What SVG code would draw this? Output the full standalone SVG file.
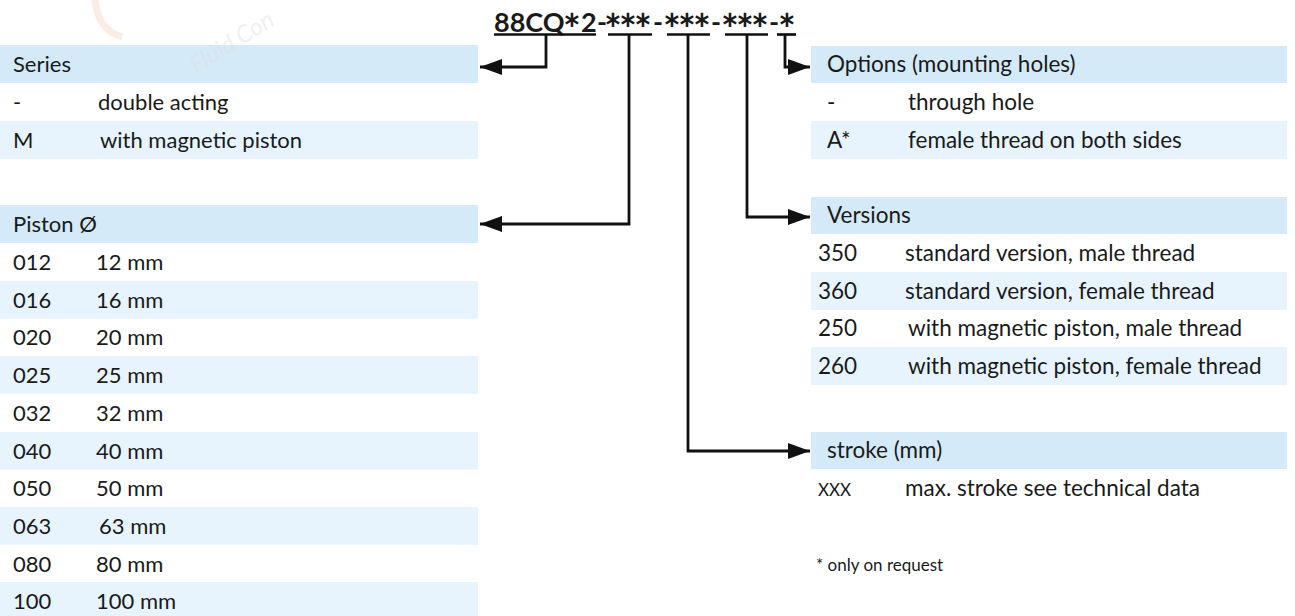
<svg xmlns="http://www.w3.org/2000/svg" width="1295" height="616" viewBox="0 0 1295 616">
<style>
  .hdr { fill: #d4eaf9; }
  .alt { fill: #e8f4fd; }
  .t { font-family: Lato, "Liberation Sans", sans-serif; font-size: 22px; fill: #1a1a1a; }
  .r { font-size: 22.5px; }
  .small { font-family: Lato, "Liberation Sans", sans-serif; font-size: 17px; fill: #1a1a1a; }
  .title { font-family: Lato, "Liberation Sans", sans-serif; font-size: 27px; font-weight: bold; fill: #1a1a1a; }
  .ast { font-size: 42px; }
  .ul { stroke: #111; stroke-width: 2.7; fill: none; }
  .conn { stroke: #111; stroke-width: 2.8; fill: none; }
  .wm { font-family: Lato, "Liberation Sans", sans-serif; font-size: 24px; font-style: italic; fill: #dddddd; fill-opacity: 0.45; }
</style>
<defs>
  <marker id="arr" markerUnits="userSpaceOnUse" markerWidth="24" markerHeight="16" refX="22" refY="8" orient="auto">
    <path d="M0,0 L22,8 L0,16 Z" fill="#111"/>
  </marker>
</defs>
<rect width="1295" height="616" fill="#ffffff"/>

<g id="title">
  <text class="title" y="32"><tspan x="494">88CQ</tspan><tspan class="ast" x="563" dy="13">*</tspan><tspan x="581" dy="-13">2</tspan><tspan x="597">-</tspan><tspan class="ast" x="604 619 634" dy="13">***</tspan><tspan x="653" dy="-13">-</tspan><tspan class="ast" x="663 678 693" dy="13">***</tspan><tspan x="711" dy="-13">-</tspan><tspan class="ast" x="721 736 751" dy="13">***</tspan><tspan x="769" dy="-13">-</tspan><tspan class="ast" x="778" dy="13">*</tspan></text>
  <line class="ul" x1="494" y1="34.5" x2="596" y2="34.5"/>
  <line class="ul" x1="608" y1="34.5" x2="652" y2="34.5"/>
  <line class="ul" x1="667" y1="34.5" x2="710" y2="34.5"/>
  <line class="ul" x1="725" y1="34.5" x2="768" y2="34.5"/>
  <line class="ul" x1="777" y1="34.5" x2="796" y2="34.5"/>
</g>

<g id="series">
  <rect class="hdr" x="0" y="45" width="478" height="38"/>
  <rect class="alt" x="0" y="121" width="478" height="38"/>
  <text class="t" x="13" y="72">Series</text>
  <text class="t" x="13" y="110">-</text>
  <text class="t" x="98" y="110">double acting</text>
  <text class="t" x="13" y="148">M</text>
  <text class="t" x="100" y="148">with magnetic piston</text>
</g>

<g id="piston">
  <rect class="hdr" x="0" y="205" width="478" height="38"/>
  <rect class="alt" x="0" y="281" width="478" height="37.7"/>
  <rect class="alt" x="0" y="356" width="478" height="37.7"/>
  <rect class="alt" x="0" y="432" width="478" height="37.7"/>
  <rect class="alt" x="0" y="507" width="478" height="37.7"/>
  <rect class="alt" x="0" y="582" width="478" height="38"/>
  <text class="t" x="13" y="232">Piston Ø</text>
  <text class="t" x="13" y="270">012</text><text class="t" x="96" y="270">12 mm</text>
  <text class="t" x="13" y="308">016</text><text class="t" x="96" y="308">16 mm</text>
  <text class="t" x="13" y="345">020</text><text class="t" x="96" y="345">20 mm</text>
  <text class="t" x="13" y="383">025</text><text class="t" x="96" y="383">25 mm</text>
  <text class="t" x="13" y="421">032</text><text class="t" x="96" y="421">32 mm</text>
  <text class="t" x="13" y="459">040</text><text class="t" x="96" y="459">40 mm</text>
  <text class="t" x="13" y="496">050</text><text class="t" x="96" y="496">50 mm</text>
  <text class="t" x="13" y="534">063</text><text class="t" x="99" y="534">63 mm</text>
  <text class="t" x="13" y="572">080</text><text class="t" x="96" y="572">80 mm</text>
  <text class="t" x="13" y="609">100</text><text class="t" x="96" y="609">100 mm</text>
</g>

<g id="options">
  <rect class="hdr" x="811" y="46" width="476" height="37"/>
  <rect class="alt" x="811" y="121" width="476" height="38"/>
  <text class="t r" x="827" y="72">Options (mounting holes)</text>
  <text class="t r" x="827" y="110">-</text>
  <text class="t r" x="908" y="110">through hole</text>
  <text class="t r" x="827" y="148">A*</text>
  <text class="t r" x="908" y="148">female thread on both sides</text>
</g>

<g id="versions">
  <rect class="hdr" x="811" y="197" width="476" height="37"/>
  <rect class="alt" x="811" y="272" width="476" height="38"/>
  <rect class="alt" x="811" y="347" width="476" height="38"/>
  <text class="t r" x="827" y="223">Versions</text>
  <text class="t r" x="818" y="261">350</text><text class="t r" x="905" y="261">standard version, male thread</text>
  <text class="t r" x="818" y="299">360</text><text class="t r" x="905" y="299">standard version, female thread</text>
  <text class="t r" x="818" y="336">250</text><text class="t r" x="908" y="336">with magnetic piston, male thread</text>
  <text class="t r" x="818" y="374">260</text><text class="t r" x="908" y="374">with magnetic piston, female thread</text>
</g>

<g id="stroke">
  <rect class="hdr" x="811" y="432" width="476" height="37"/>
  <text class="t r" x="827" y="458">stroke (mm)</text>
  <text class="small" x="818" y="496">XXX</text>
  <text class="t r" x="905" y="496">max. stroke see technical data</text>
</g>

<g id="note">
  <text class="small" x="816" y="571">* only on request</text>
</g>

<g id="connectors">
  <polyline class="conn" points="546,34 546,67 480,67" marker-end="url(#arr)"/>
  <polyline class="conn" points="629,35 629,224 480,224" marker-end="url(#arr)"/>
  <polyline class="conn" points="688,35 688,451 810,451" marker-end="url(#arr)"/>
  <polyline class="conn" points="747,35 747,217 810,217" marker-end="url(#arr)"/>
  <polyline class="conn" points="785,35 785,67 810,67" marker-end="url(#arr)"/>
</g>

<g id="watermark">
  <path d="M95,0 Q98,30 122,37" fill="none" stroke="#f9d9c9" stroke-opacity="0.5" stroke-width="7"/>
  <text class="wm" x="196" y="74" transform="rotate(-32 196 74)">Fluid Con</text>
</g>
</svg>
